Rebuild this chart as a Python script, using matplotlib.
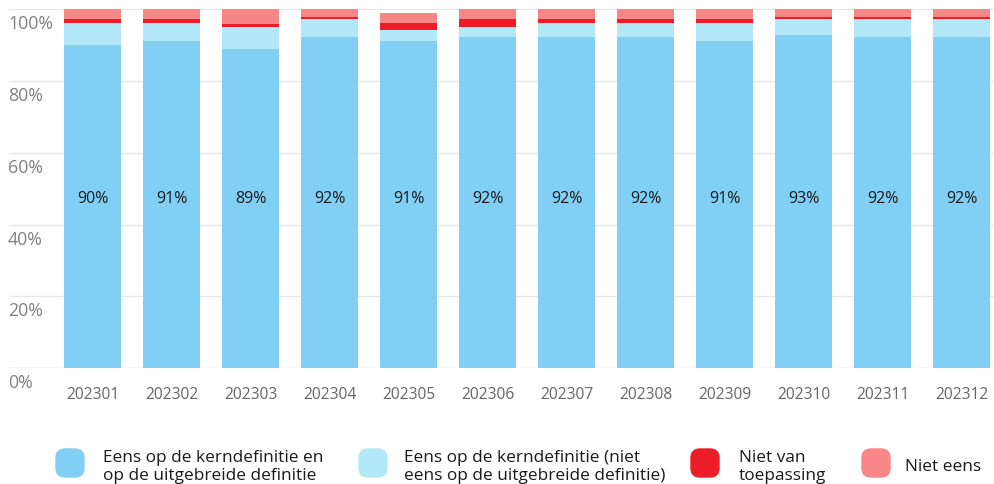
import numpy as np
import matplotlib.pyplot as plt
from matplotlib.patches import FancyBboxPatch
from matplotlib.transforms import offset_copy

plt.rcParams['font.family'] = ['Open Sans', 'DejaVu Sans']

months = ['202301', '202302', '202303', '202304', '202305', '202306',
          '202307', '202308', '202309', '202310', '202311', '202312']
eens_beide = [90.1, 91.0, 89.0, 92.1, 91.0, 92.1, 92.1, 92.1, 91.0, 92.9, 92.1, 92.1]
eens_kern = [5.9, 5.0, 6.1, 5.0, 3.1, 2.8, 3.9, 3.9, 5.0, 4.2, 5.0, 5.0]
niet_van_toep = [1.1, 1.1, 0.8, 0.8, 2.0, 2.2, 1.1, 1.1, 1.1, 0.8, 0.8, 0.8]
niet_eens = [2.9, 2.9, 4.1, 2.1, 2.9, 2.8, 2.8, 2.8, 2.8, 2.1, 2.1, 2.1]

series = [eens_beide, eens_kern, niet_van_toep, niet_eens]
colors = ['#81cff4', '#b3e8f9', '#ed1c29', '#f78787']
names = ['Eens op de kerndefinitie en\nop de uitgebreide definitie',
         'Eens op de kerndefinitie (niet\neens op de uitgebreide definitie)',
         'Niet van\ntoepassing',
         'Niet eens']

W, H = 994, 485
fig = plt.figure(figsize=(W / 100, H / 100), dpi=100)
ax = fig.add_axes([9 / W, 1 - 369.3 / H, (W - 9) / W, (369.3 - 10) / H])

x = np.arange(len(months))
bottom = np.zeros(len(months))
for vals, c in zip(series, colors):
    ax.bar(x, vals, 0.72, bottom=bottom, color=c, zorder=3, linewidth=0)
    bottom += np.array(vals)

for i, v in enumerate(eens_beide):
    ax.text(i, 47.4, f'{round(v)}%', ha='center', va='center', fontsize=11.5,
            color='#1a1a1a', zorder=4)

ax.set_xlim((9 - 92.5) / 79, (W - 92.5) / 79)
ax.set_ylim(0, 100)
for s in ax.spines.values():
    s.set_visible(False)
for v in range(0, 101, 20):
    ax.axhline(v, color='#d9d9d9' if v == 0 else '#e6e6e6', lw=1, zorder=1)

ax.set_yticks([])
ax.set_xticks(x)
ax.set_xticklabels(months, fontsize=11.2, color='#666666')
ax.tick_params(axis='x', length=0, pad=13)

trans = offset_copy(ax.get_yaxis_transform(), fig=fig, x=-1, y=-14, units='dots')
for v in range(0, 101, 20):
    ax.text(0, v, f'{v}%', transform=trans, ha='left', va='center',
            fontsize=12.8, color='#808080')

# legend
marker_x = [56, 359, 691, 862]
text_x = [103, 404, 739, 905]
for mx, tx, c, n in zip(marker_x, text_x, colors, names):
    p = FancyBboxPatch((mx / W, 1 - 478 / H), 28 / W, 28 / H,
                       boxstyle='round,pad=0,rounding_size=0.009',
                       transform=fig.transFigure, color=c,
                       mutation_aspect=W / H)
    fig.patches.append(p)
    fig.text(tx / W, 1 - 467 / H, n, ha='left', va='center', fontsize=12.4,
             color='#1a1a1a', linespacing=1.2)

fig.savefig('out.png', dpi=100)
